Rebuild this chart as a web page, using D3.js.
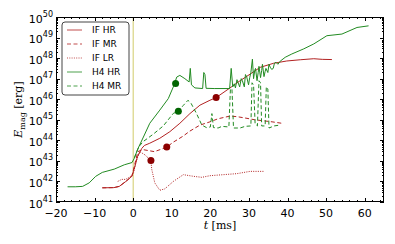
<!DOCTYPE html>
<html><head><meta charset="utf-8">
<script src="https://cdn.jsdelivr.net/npm/d3@7"></script>
<style>body{margin:0;background:#fff}svg{display:block}</style>
</head><body>
<script>
// ---- data: time [ms] and log10(E_mag/erg) ----
const ifHR_t = [-8,-5,-3.6,-1.9,-0.35,0.4,1.1,2.2,2.9,4.3,6.9,9.5,12.1,14.7,17.3,19.9,21.5,25.1,27.7,30.3,32.9,36.4,39.8,43.3,46.8,49,51.5];
const ifHR_v = [41.69,41.7,41.76,42.0,42.25,42.7,43.2,43.6,43.75,43.86,44.1,44.42,44.83,45.3,45.71,45.95,46.08,46.55,46.9,47.22,47.55,47.75,47.86,47.92,47.97,47.94,47.93];

const ifMR_t = [-8,-5,-3.6,-1.9,-0.35,0.5,1.2,2.5,4,5.5,7,8.7,10.3,12.9,14.7,17.3,19.9,22,25.1,27,29.5,31.5,33.8,36,38.5];
const ifMR_v = [41.69,41.7,41.76,42.0,42.25,42.9,43.45,43.55,43.5,43.45,43.55,43.67,43.9,44.2,44.45,44.74,44.9,45.05,45.18,45.15,45.07,45.0,44.95,44.9,44.83];

const ifLR_t = [-4,-3,-2,-1,0,0.8,1.7,3,4.6,4.8,5.6,6.9,8.2,10.4,13,15.6,17.8,19.9,23.4,26.9,30.3,33.8];
const ifLR_v = [42.0,42.1,42.1,42.2,42.35,43.0,43.45,43.3,43.02,42.6,41.93,41.57,41.64,42.0,42.33,42.25,42.2,42.28,42.33,42.38,42.49,42.49];

const h4HR_t = [-17,-15,-13.1,-11.4,-9.7,-8,-4.9,-2.3,-0.3,0.3,1.1,2.9,4.3,6.9,9.1,10.4,11.3,12.1,13.4,14.5,14.8,15.1,16,18,18.3,18.6,18.9,21,25,25.4,25.8,26.2,26.5,26.9,27.2,27.6,28,28.3,28.8,29.1,29.4,29.9,30.2,30.5,30.9,31.2,31.5,31.7,32.1,32.4,32.6,33,33.3,33.5,33.9,34.2,34.4,34.9,35.2,35.5,35.9,36.3,36.6,37,37.5,38.1,39.4,41.1,44.2,46.8,50.2,54.1,58,61];
const h4HR_v = [41.74,41.74,41.76,41.93,42.25,42.44,42.6,42.81,42.92,43.13,43.54,44.26,44.83,45.47,46.03,46.6,47.08,47.16,47.0,46.84,47.5,46.7,46.55,46.52,47.3,47.2,46.53,46.52,46.52,47.5,46.6,46.75,46.55,46.95,46.8,46.6,47.0,46.9,46.6,47.2,47.1,46.7,47.05,47.3,47.95,47.0,47.4,47.5,46.9,47.3,47.6,47.05,47.4,47.7,47.1,47.35,47.5,47.3,47.7,47.56,47.45,47.5,47.75,47.8,47.7,47.85,48.04,48.2,48.45,48.69,49.09,49.17,49.49,49.57];

const h4MR_t = [0.3,1.5,2.6,5.2,7.8,10.4,11.7,13,14.2,15,16.4,17.8,19,20,20.4,20.8,22,23,24.8,25.2,25.6,26,27.7,29,30.5,30.8,31.2,31.6,32.2,32.6,33,33.3,34.2,34.5,34.9,35.2,36.5,38];
const h4MR_v = [43.15,43.7,43.94,44.3,44.7,45.31,45.42,45.7,45.95,45.8,45.31,44.74,44.62,44.65,45.3,44.62,44.6,44.68,44.65,46.5,46.5,44.6,44.6,44.68,44.7,46.8,46.7,44.8,44.7,46.9,46.8,44.7,44.7,46.6,46.5,44.6,44.7,44.74];

// marker dots
const dot_t = [4.6,8.7,21.5,11.0,11.7];
const dot_v = [43.02,43.67,46.08,46.76,45.42];
const dot_c = ["IF","IF","IF","H4","H4"];

const seriesNames = ["IF HR","IF MR","IF LR","H4 HR","H4 MR"];
const xTicks = [-20,-10,0,10,20,30,40,50,60];
const yExps = [41,42,43,44,45,46,47,48,49,50];

// ---- layout ----
const W=395,H=244;
const L=56,R=384,T=17,B=202;
const red="#b22222", green="#228b22", dred="#8b0000", dgreen="#006400";

const svg=d3.select("body").append("svg").attr("width",W).attr("height",H);
const x=d3.scaleLinear().domain([-20,65]).range([L,R]);
const y=d3.scaleLog().domain([1e41,1e50]).range([B,T]);

const zip=(ts,vs)=>ts.map((t,i)=>[t,Math.pow(10,vs[i])]);
const line=d3.line().x(d=>x(d[0])).y(d=>y(d[1]));

const g=svg.append("g");
g.append("line").attr("x1",x(0)).attr("x2",x(0)).attr("y1",T).attr("y2",B)
 .attr("stroke","#d2cc6a").attr("stroke-width",1);

const styles=[
 {t:ifHR_t,v:ifHR_v,c:red,d:null},
 {t:ifMR_t,v:ifMR_v,c:red,d:"4,2.5"},
 {t:ifLR_t,v:ifLR_v,c:red,d:"1,1.3"},
 {t:h4HR_t,v:h4HR_v,c:green,d:null},
 {t:h4MR_t,v:h4MR_v,c:green,d:"4,2.5"}
];
styles.forEach(s=>{
 g.append("path").datum(zip(s.t,s.v)).attr("d",line).attr("fill","none")
  .attr("stroke",s.c).attr("stroke-width",1).attr("stroke-dasharray",s.d);
});
dot_t.forEach((t,i)=>{
 g.append("circle").attr("cx",x(t)).attr("cy",y(Math.pow(10,dot_v[i]))).attr("r",3.5)
  .attr("fill",dot_c[i]==="IF"?dred:dgreen);
});

// ---- axes frame & ticks ----
const ax=svg.append("g").attr("stroke","#000").attr("stroke-width",1);
ax.append("rect").attr("x",L+0.5).attr("y",T+0.5).attr("width",R-L-1).attr("height",B-T-1).attr("fill","none");
for(let t=-20;t<=65;t+=2){
 const major=t%10===0, len=major?4:2, xx=Math.round(x(t))+0.5;
 ax.append("line").attr("x1",xx).attr("x2",xx).attr("y1",B).attr("y2",B-len);
 ax.append("line").attr("x1",xx).attr("x2",xx).attr("y1",T).attr("y2",T+len);
}
for(let e=41;e<=50;e++){
 for(let m=1;m<=9;m++){
  if(e===50&&m>1)break;
  const yy=Math.round(y(m*Math.pow(10,e)))+0.5, len=m===1?4:2;
  ax.append("line").attr("x1",L).attr("x2",L+len).attr("y1",yy).attr("y2",yy);
  ax.append("line").attr("x1",R).attr("x2",R-len).attr("y1",yy).attr("y2",yy);
 }
}
svg.append("g").selectAll("text").data(xTicks).join("text")
 .attr("x",d=>x(d)).attr("y",B+15).attr("text-anchor","middle")
 .attr("font-family","DejaVu Sans").attr("font-size",11)
 .text(d=>d<0?"\u2212"+(-d):String(d));
const yl=svg.append("g").attr("font-family","DejaVu Sans");
yExps.forEach(e=>{
 const yy=y(Math.pow(10,e));
 const tx=yl.append("text").attr("x",53).attr("y",yy+5.5).attr("text-anchor","end").attr("font-size",11);
 tx.append("tspan").text("10");
 tx.append("tspan").attr("font-size",8).attr("dy",-6).text(String(e));
});
const xl=svg.append("text").attr("x",(L+R)/2).attr("y",229).attr("text-anchor","middle")
 .attr("font-family","DejaVu Serif").attr("font-size",11);
xl.append("tspan").attr("font-style","italic").text("t");
xl.append("tspan").text(" [ms]");
const ylab=svg.append("text").attr("transform",`translate(22,${(T+B)/2}) rotate(-90)`)
 .attr("text-anchor","middle").attr("font-family","DejaVu Serif").attr("font-size",11);
ylab.append("tspan").attr("font-style","italic").text("E");
ylab.append("tspan").attr("font-size",8).attr("dy",3).text("mag");
ylab.append("tspan").attr("dy",-3).text(" [erg]");

const lg=svg.append("g");
lg.append("rect").attr("x",62).attr("y",22).attr("width",67).attr("height",73).attr("rx",3)
 .attr("fill","#fff").attr("stroke","#444").attr("stroke-width",1);
seriesNames.forEach((n,i)=>{
 const yy=30+i*14;
 lg.append("line").attr("x1",67).attr("x2",82).attr("y1",yy).attr("y2",yy)
  .attr("stroke",styles[i].c).attr("stroke-opacity",0.8).attr("stroke-width",1).attr("stroke-dasharray",styles[i].d);
 lg.append("text").attr("x",92).attr("y",yy+3.3).attr("font-family","DejaVu Sans")
  .attr("font-size",9).text(n);
});
</script>
</body></html>
